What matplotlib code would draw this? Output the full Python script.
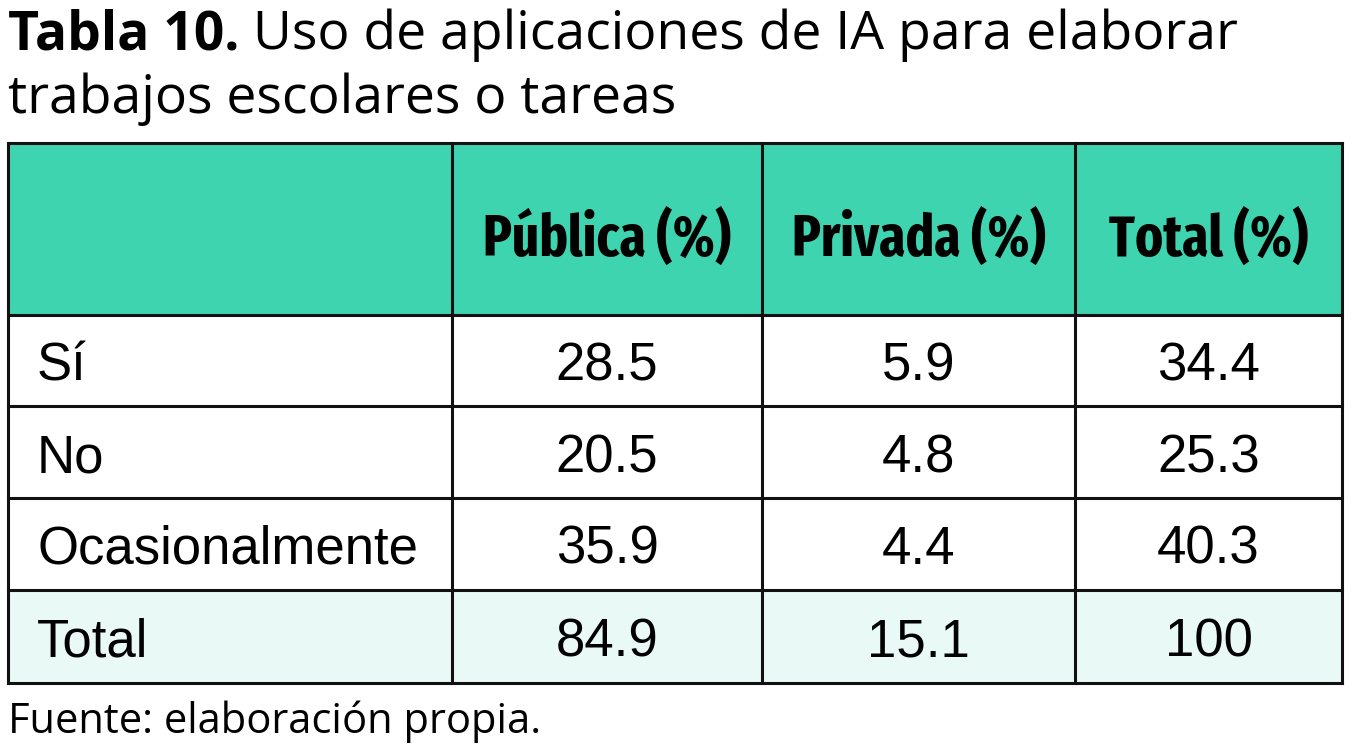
import matplotlib
matplotlib.use('Agg')
import matplotlib.pyplot as plt
from matplotlib.patches import Rectangle

# data
title_bold = 'Tabla 10.'
title_rest = ' Uso de aplicaciones de IA para elaborar'
title_line2 = 'trabajos escolares o tareas'
col_headers = ['Pública (%)', 'Privada (%)', 'Total (%)']
row_labels = ['Sí', 'No', 'Ocasionalmente', 'Total']
publica = ['28.5', '20.5', '35.9', '84.9']
privada = ['5.9', '4.8', '4.4', '15.1']
total = ['34.4', '25.3', '40.3', '100']
source = 'Fuente: elaboración propia.'

# layout in pixels
W, H = 1356, 748
col_x = [8, 452, 762, 1075, 1342]
row_y = [143, 315, 406, 498, 590, 683]
head_color = '#3ed4b0'
total_color = '#e9f9f6'

title_font = ['Open Sans', 'DejaVu Sans']
head_font = ['Fira Sans Extra Condensed', 'DejaVu Sans']
body_font = ['Liberation Sans', 'DejaVu Sans']

fig = plt.figure(figsize=(W / 100, H / 100), dpi=100, facecolor='w')
ax = fig.add_axes([0, 0, 1, 1])
ax.set_xlim(0, W)
ax.set_ylim(H, 0)
ax.axis('off')

# cell backgrounds
ax.add_patch(Rectangle((col_x[0], row_y[0]), col_x[-1] - col_x[0], row_y[1] - row_y[0],
                       facecolor=head_color, edgecolor='none'))
ax.add_patch(Rectangle((col_x[0], row_y[4]), col_x[-1] - col_x[0], row_y[5] - row_y[4],
                       facecolor=total_color, edgecolor='none'))

# grid lines
lc = '#111111'
for x in col_x:
    ax.plot([x, x], [row_y[0], row_y[-1]], color=lc, lw=2.2, solid_capstyle='projecting')
for y in row_y:
    ax.plot([col_x[0], col_x[-1]], [y, y], color=lc, lw=2.2, solid_capstyle='projecting')

# title
t = ax.text(8, 49, title_bold, fontsize=38.5, family=title_font, weight='bold', va='baseline')
fig.canvas.draw()
bb = t.get_window_extent()
ax.text(bb.x1, 49, title_rest, fontsize=38.5, family=title_font, va='baseline')
ax.text(8, 113, title_line2, fontsize=38.5, family=title_font, va='baseline')

# header
for i, h in enumerate(col_headers):
    cx = (col_x[i + 1] + col_x[i + 2]) / 2
    ax.text(cx, 256, h, fontsize=41.5, family=head_font,
            weight='bold', ha='center', va='baseline')

# body
for r, lab in enumerate(row_labels):
    by = (row_y[r + 1] + row_y[r + 2]) / 2 + 20
    ax.text(37, by, lab, fontsize=38, family=body_font, va='baseline')
    for c, vals in enumerate([publica, privada, total]):
        cx = (col_x[c + 1] + col_x[c + 2]) / 2
        ax.text(cx, by, vals[r], fontsize=38, family=body_font, ha='center', va='baseline')

ax.text(8, 733, source, fontsize=30, family=title_font, va='baseline')

plt.savefig('out.png', dpi=100)
plt.close()
